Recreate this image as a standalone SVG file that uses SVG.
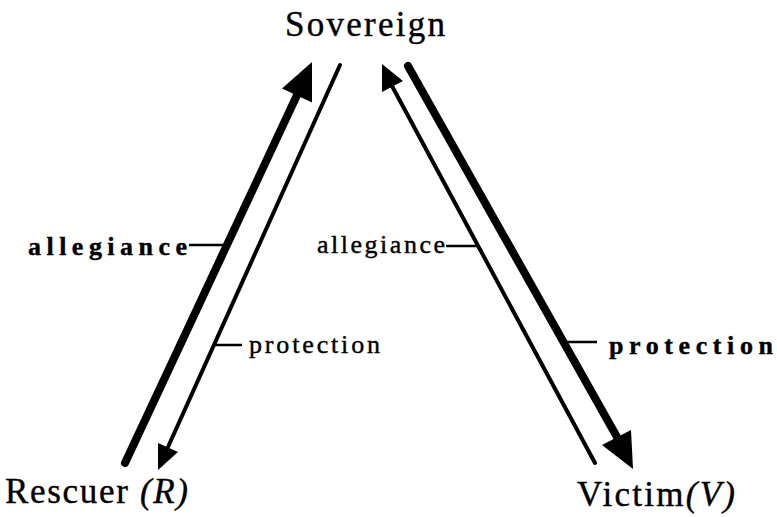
<svg xmlns="http://www.w3.org/2000/svg" width="777" height="517" viewBox="0 0 777 517">
<style>
text{font-family:"Liberation Serif","Times New Roman",serif;fill:#000;stroke:#000;stroke-width:0.4}
.node{font-size:35px}
.lbl{font-size:26px}
.b{font-weight:bold}
.thick{stroke:#000;stroke-width:8;stroke-linecap:round;fill:none}
.thin{stroke:#000;stroke-width:4;stroke-linecap:round;fill:none}
.tick{stroke:#000;stroke-width:2.5;fill:none}
.head{fill:#000}
</style>
<rect width="777" height="517" fill="#fff"/>
<g id="sovereign"><text class="node" x="285" y="36" textLength="160" lengthAdjust="spacing">Sovereign</text></g>
<g id="rescuer"><text class="node" x="5" y="503" textLength="183" lengthAdjust="spacing">Rescuer <tspan font-style="italic">(R)</tspan></text></g>
<g id="victim"><text class="node" x="577" y="506" textLength="158" lengthAdjust="spacing">Victim<tspan font-style="italic">(V)</tspan></text></g>
<g id="connectors">
<line class="thick" x1="125" y1="463" x2="298" y2="93"/>
<polygon class="head" points="312,62 282,88.6 312,102.4"/>
<line class="thin" x1="340" y1="65" x2="168" y2="447"/>
<polygon class="head" points="158,470 158,443 178,452"/>
<line class="thin" x1="595" y1="463" x2="392" y2="86"/>
<polygon class="head" points="382,64 382,92 403,81"/>
<line class="thick" x1="408" y1="66" x2="617" y2="437"/>
<polygon class="head" points="633,469 602,445 631,430"/>
<line class="tick" x1="189" y1="245" x2="226" y2="245"/>
<line class="tick" x1="214" y1="345" x2="242" y2="345"/>
<line class="tick" x1="446" y1="246" x2="479" y2="246"/>
<line class="tick" x1="562" y1="342" x2="597" y2="342"/>
<text class="lbl b" x="28" y="255" textLength="159" lengthAdjust="spacing">allegiance</text>
<text class="lbl" x="249" y="353" textLength="131" lengthAdjust="spacing">protection</text>
<text class="lbl" x="317" y="253" textLength="128" lengthAdjust="spacing">allegiance</text>
<text class="lbl b" x="609" y="354" textLength="164" lengthAdjust="spacing">protection</text>
</g>
</svg>
